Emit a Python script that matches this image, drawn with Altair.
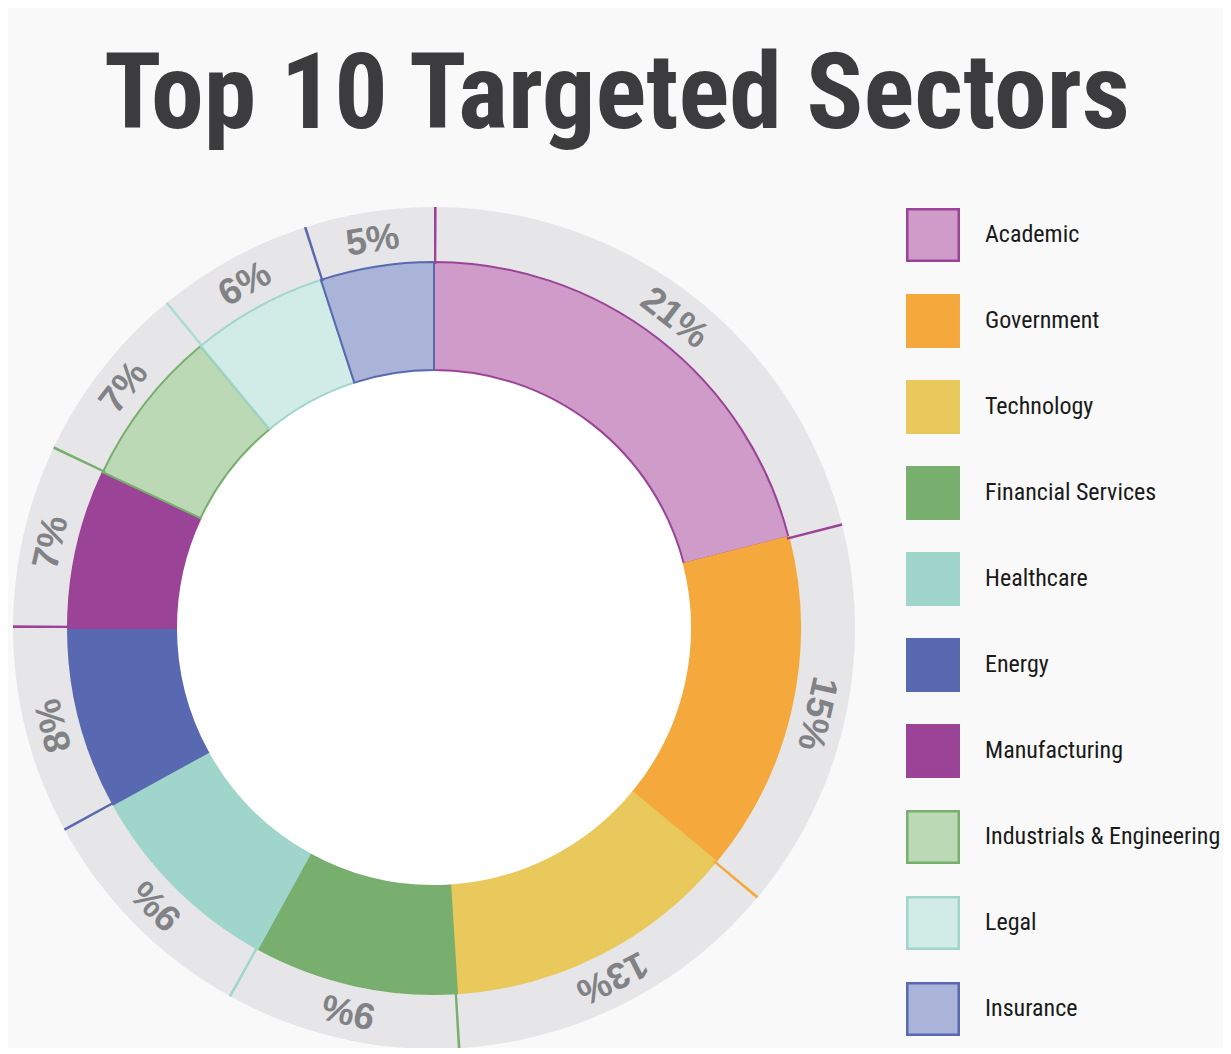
import altair as alt
import pandas as pd

# ---- data -------------------------------------------------------------
sectors = ["Academic", "Government", "Technology", "Financial Services",
           "Healthcare", "Energy", "Manufacturing",
           "Industrials & Engineering", "Legal", "Insurance"]
shares = [21, 15, 13, 9, 9, 8, 7, 7, 6, 5]
fill_colors = ["#cf9bc8", "#f5a93d", "#e9c85c", "#78ae6e", "#9fd5cb",
               "#5969b1", "#9b4397", "#bcd9b6", "#d1ebe6", "#aab3d8"]
stroke_colors = ["#9b4397", "#f5a93d", "#e9c85c", "#78ae6e", "#9fd5cb",
                 "#5969b1", "#9b4397", "#78ae6e", "#9fd5cb", "#5969b1"]
divider_colors = ["#9b4397", "#9b4397", "#f5a93d", "#78ae6e", "#9fd5cb",
                  "#5969b1", "#9b4397", "#78ae6e", "#a8ddd3", "#5969b1"]
title_text = "Top 10 Targeted Sectors"

# ---- derived tables ---------------------------------------------------
ends = pd.Series(shares).cumsum().tolist()
starts = [e - s for e, s in zip(ends, shares)]
df = pd.DataFrame({
    "sector": sectors,
    "share": shares,
    "start": starts,
    "end": ends,
})
df["mid"] = (df["start"] + df["end"]) / 2
df["angle"] = df["mid"] * 3.6
df["label"] = df["share"].astype(str) + "%"

div = pd.DataFrame({"pos": starts, "color": divider_colors})
div["pos2"] = div["pos"] + 0.1

one = pd.DataFrame({"k": [0]})

CONDENSED = "'Roboto Condensed', 'DejaVu Sans Condensed', 'Liberation Sans Narrow', 'Open Sans Condensed', sans-serif"

CX, CY = 426, 620
TWO_PI = 6.283185307179586
theta_scale = alt.Scale(domain=[0, 100], range=[0, TWO_PI])

legend = alt.Legend(
    title=None, orient="none", legendX=898, legendY=200, padding=0,
    symbolType="square", symbolSize=2650, symbolStrokeWidth=2.5,
    symbolOpacity=1,
    labelFont=CONDENSED, labelFontSize=24,
    labelColor="#1a1a1a", labelOffset=25, rowPadding=24, labelLimit=400,
)

white_disc = alt.Chart(one).mark_arc(
    radius=258, radius2=0, theta=0, theta2=TWO_PI, color="#ffffff"
).encode(x=alt.value(CX), y=alt.value(CY))

grey_ring = alt.Chart(one).mark_arc(
    radius=421, radius2=364, theta=0, theta2=TWO_PI, color="#e6e6e8"
).encode(x=alt.value(CX), y=alt.value(CY))

segments = alt.Chart(df).mark_arc(
    radius=366, radius2=258, strokeWidth=2
).encode(
    x=alt.value(CX), y=alt.value(CY),
    theta=alt.Theta("start:Q", scale=theta_scale),
    theta2="end:Q",
    fill=alt.Fill("sector:N", sort=sectors,
                  scale=alt.Scale(domain=sectors, range=fill_colors),
                  legend=legend),
    stroke=alt.Stroke("sector:N", sort=sectors,
                      scale=alt.Scale(domain=sectors, range=stroke_colors),
                      legend=legend),
)

dividers = alt.Chart(div).mark_arc(radius=421, radius2=364).encode(
    x=alt.value(CX), y=alt.value(CY),
    theta=alt.Theta("pos:Q", scale=theta_scale),
    theta2="pos2:Q",
    fill=alt.Fill("color:N", scale=None, legend=None),
)

labels = alt.Chart(df).mark_text(
    radius=392, font="Liberation Sans", fontWeight="bold", fontSize=37,
    color="#808285", align="center", baseline="middle"
).encode(
    x=alt.value(CX), y=alt.value(CY),
    theta=alt.Theta("mid:Q", scale=theta_scale),
    text="label:N",
    angle=alt.Angle("angle:Q", scale=None),
)

title = alt.Chart(one).mark_text(
    text=title_text, font=CONDENSED, fontWeight="bold",
    fontSize=106, color="#3c3c3e", align="center", baseline="alphabetic"
).encode(x=alt.value(609), y=alt.value(120))

chart = alt.layer(
    white_disc, grey_ring, segments, dividers, labels, title
).properties(
    width=1215, height=1040,
    autosize=alt.AutoSizeParams(type="none"),
    padding=0,
    background="#f9f9f9",
).configure_view(strokeWidth=0)

chart.save("out.html", embed_options={"renderer": "svg", "actions": False})
